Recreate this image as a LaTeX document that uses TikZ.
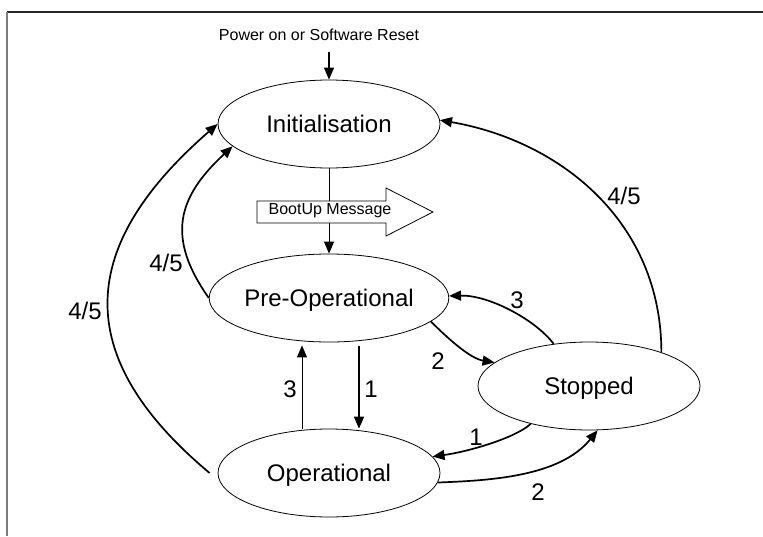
\documentclass[tikz,border=0pt]{standalone}
\usepackage{fontspec}
\setmainfont{Liberation Sans}
\usetikzlibrary{arrows.meta,shapes.geometric}
\definecolor{framegray}{RGB}{125,125,125}
\tikzset{
  state/.style={draw, ellipse, line width=0.8pt, minimum width=222pt, minimum height=88pt,
    inner sep=0pt, font=\fontsize{24}{28}\selectfont, text height=17.2pt, text depth=0pt},
  tip/.style={-{Triangle[length=12pt,width=10pt]}},
  thinflow/.style={tip, line width=1pt},
  boldflow/.style={tip, line width=1.7pt},
  num/.style={font=\fontsize{24}{28}\selectfont, inner sep=0pt},
  small/.style={font=\fontsize{16}{19}\selectfont, inner sep=0pt}
}
\begin{document}
\begin{tikzpicture}[x=1pt, y=-1pt]
\useasboundingbox (0,0) rectangle (763,536);

% frame fragments
\draw[line width=1.2pt, black!85] (7,12) -- (763,12);
\draw[line width=1.6pt, framegray] (7,12) -- (7,536);

% states
\node[state] (init) at (329,124) {Initialisation};
\node[state] (pre)  at (329,298) {Pre-Operational};
\node[state] (op)   at (329,473) {Operational};
\node[state] (stop) at (589,386) {Stopped};

% power-on entry
\node[small] (power) at (319,35) {Power on or Software Reset};
\coordinate (powerin) at (329,52);
\draw[tip, line width=1.3pt] (powerin) -- (init.north);

% boot-up transition with its message arrow on top
\draw[thinflow] (init.south) -- (pre.north);
\filldraw[fill=white, draw=black, line width=0.8pt]
  (257,201) -- (386,201) -- (386,188) -- (433,212) -- (386,236) -- (386,223) -- (257,223) -- cycle;
\node[small] (boot) at (330,211) {BootUp Message};

% pre-operational <-> operational
\draw[boldflow] ([xshift=30pt,yshift=-4pt]pre.south) -- ([xshift=30pt]op.north);
\draw[thinflow] ([xshift=-27pt]op.north) -- ([xshift=-27pt,yshift=-3pt]pre.south);
\node[num] (l3a) at (290,389) {3};
\node[num] (l1a) at (371,389) {1};

% resets back to initialisation
\draw[boldflow] ([xshift=-8pt]op.west) .. controls +(-141,-118) and +(-139,121) .. (init.west);
\node[num] (l45a) at (85,311) {4/5};
\draw[boldflow] (pre.west) .. controls +(-43,-61) and +(-55,51) .. (init.193);
\node[num] (l45b) at (166,263) {4/5};
\draw[boldflow] (stop.25) .. controls +(0,-130) and +(121,21) .. (init.2);
\node[num] (l45c) at (624,196) {4/5};

% stopped transitions
\draw[boldflow] (stop.130) .. controls +(-18,-24) and +(40,-1) .. (pre.1);
\node[num] (l3b) at (517,300) {3};
\draw[boldflow] (pre.-13) .. controls +(15,15) and +(-25,-4) .. (stop.166);
\node[num] (l2a) at (438,361) {2};
\draw[boldflow] (stop.213) .. controls +(-15,14) and +(36,-5) .. (op.9);
\node[num] (l1b) at (476,437) {1};
\draw[boldflow] (op.-5) .. controls +(50,-2) and +(-38,47) .. (stop.-79);
\node[num] (l2b) at (538,492) {2};
\end{tikzpicture}
\end{document}
